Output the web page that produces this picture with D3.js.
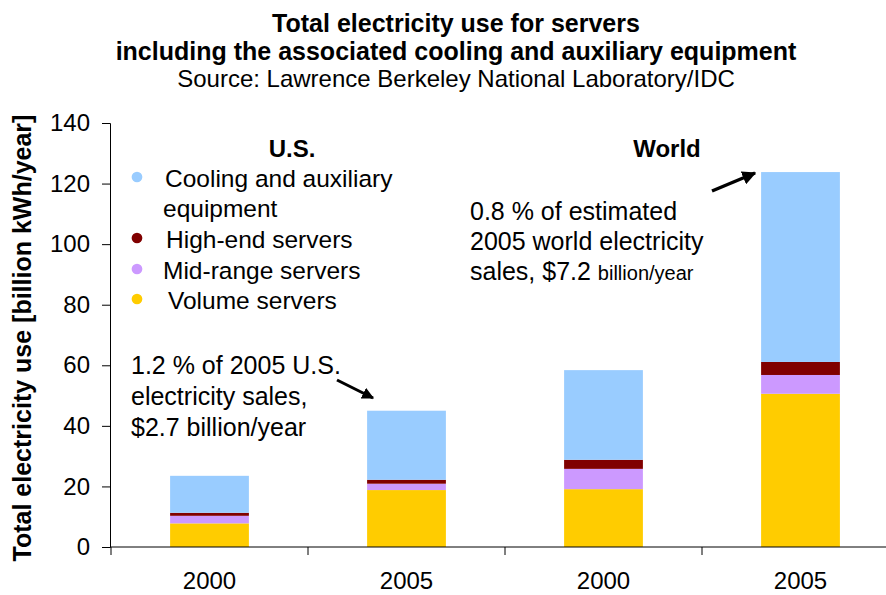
<!DOCTYPE html>
<html><head><meta charset="utf-8">
<script src="https://cdn.jsdelivr.net/npm/d3@7"></script>
<style>body{margin:0;background:#fff}svg{display:block;font-family:"Liberation Sans",Arial,sans-serif}</style>
</head><body><svg id="c" width="886" height="595"></svg>
<script>
const categories = ["US 2000","US 2005","World 2000","World 2005"];
const tickLabels = ["2000","2005","2000","2005"];
const volume = [7.8, 18.8, 19.1, 50.6];
const midRange = [2.5, 2.1, 6.7, 6.2];
const highEnd = [1.0, 1.3, 3.0, 4.3];
const cooling = [12.2, 22.8, 29.6, 62.7];
const seriesNames = ["Volume servers","Mid-range servers","High-end servers","Cooling and auxiliary equipment"];
const seriesColors = ["#FFCC00","#CC99FF","#800000","#99CCFF"];
const yTicks = [0,20,40,60,80,100,120,140];

const svg = d3.select("#c");
const rows = categories.map((c,i)=>({cat:c, v0:volume[i], v1:midRange[i], v2:highEnd[i], v3:cooling[i]}));
const stack = d3.stack().keys(["v0","v1","v2","v3"])(rows);

const x = d3.scaleBand().domain(categories).range([111, 899]).paddingInner(0.6).paddingOuter(0.3);
const y = d3.scaleLinear().domain([0,140]).range([547,123]);

// bars
svg.append("g").selectAll("g").data(stack).join("g")
  .attr("fill",(d,i)=>seriesColors[i])
  .selectAll("rect").data(d=>d).join("rect")
  .attr("x",d=>x(d.data.cat)).attr("width",x.bandwidth())
  .attr("y",d=>y(d[1])).attr("height",d=>y(d[0])-y(d[1]));

// y axis
const ya = svg.append("g").attr("transform","translate(110,0)")
  .call(d3.axisLeft(y).tickValues(yTicks).tickSize(8).tickPadding(12));
ya.selectAll("text").attr("font-size",24).attr("fill","#000").attr("font-family","Liberation Sans, Arial");
ya.selectAll("line,path").attr("stroke","#000");

// x axis
const xb = d3.scaleLinear().domain([0,4]).range([111,899]);
const xa = svg.append("g");
xa.append("line").attr("x1",110).attr("x2",899).attr("y1",547).attr("y2",547).attr("stroke","#000");
xa.selectAll("line.t").data([0,1,2,3,4]).join("line").attr("class","t")
  .attr("x1",d=>xb(d)).attr("x2",d=>xb(d)).attr("y1",547).attr("y2",555).attr("stroke","#000");
xa.selectAll("text").data(categories).join("text")
  .attr("x",d=>x(d)+x.bandwidth()/2).attr("y",589).attr("text-anchor","middle")
  .attr("font-size",24).text((d,i)=>tickLabels[i]);

// titles
const t = svg.append("g").attr("text-anchor","middle");
t.append("text").attr("x",456).attr("y",32).attr("font-size",25).attr("font-weight","bold").text("Total electricity use for servers");
t.append("text").attr("x",456).attr("y",60).attr("font-size",25).attr("font-weight","bold").text("including the associated cooling and auxiliary equipment");
t.append("text").attr("x",456).attr("y",87).attr("font-size",24).text("Source: Lawrence Berkeley National Laboratory/IDC");

// y label
svg.append("text").attr("transform","translate(31,338) rotate(-90)").attr("text-anchor","middle")
  .attr("font-size",25).attr("font-weight","bold").text("Total electricity use [billion kWh/year]");

// group labels
svg.append("text").attr("x",292).attr("y",157).attr("text-anchor","middle").attr("font-size",24).attr("font-weight","bold").text("U.S.");
svg.append("text").attr("x",667).attr("y",157).attr("text-anchor","middle").attr("font-size",24).attr("font-weight","bold").text("World");

// legend
const leg = [
  {i:3, lines:["Cooling and auxiliary","equipment"], y:187, tx:165},
  {i:2, lines:["High-end servers"], y:248, tx:166},
  {i:1, lines:["Mid-range servers"], y:279, tx:163},
  {i:0, lines:["Volume servers"], y:309, tx:168}
];
const lg = svg.append("g");
leg.forEach(l=>{
  lg.append("path").attr("d",d3.symbol(d3.symbolCircle,90)()).attr("transform",`translate(137,${l.y-10})`).attr("fill",seriesColors[l.i]);
  l.lines.forEach((s,k)=>lg.append("text").attr("x",l.tx-(k?2:0)).attr("y",l.y+k*30).attr("font-size",24.5).text(s));
});

// annotations
const a1 = svg.append("g").attr("font-size",25);
a1.append("text").attr("x",470).attr("y",220).text("0.8 % of estimated");
a1.append("text").attr("x",470).attr("y",250).text("2005 world electricity");
const l3 = a1.append("text").attr("x",470).attr("y",280);
l3.append("tspan").text("sales, $7.2 ");
l3.append("tspan").attr("font-size",20).text("billion/year");
const a2 = svg.append("g").attr("font-size",25);
a2.append("text").attr("x",131).attr("y",374).text("1.2 % of 2005 U.S.");
a2.append("text").attr("x",131).attr("y",405).text("electricity sales,");
a2.append("text").attr("x",131).attr("y",436).text("$2.7 billion/year");

svg.append("defs").append("marker").attr("id","ah").attr("viewBox","0 0 10 10").attr("refX",9).attr("refY",5)
  .attr("markerWidth",4).attr("markerHeight",4).attr("orient","auto")
  .append("path").attr("d","M0,0L10,5L0,10z").attr("fill","#000");
svg.append("line").attr("x1",712).attr("y1",191).attr("x2",755).attr("y2",173).attr("stroke","#000").attr("stroke-width",3.5).attr("marker-end","url(#ah)");
svg.append("line").attr("x1",337).attr("y1",380).attr("x2",373).attr("y2",398).attr("stroke","#000").attr("stroke-width",3).attr("marker-end","url(#ah)");
</script></body></html>
